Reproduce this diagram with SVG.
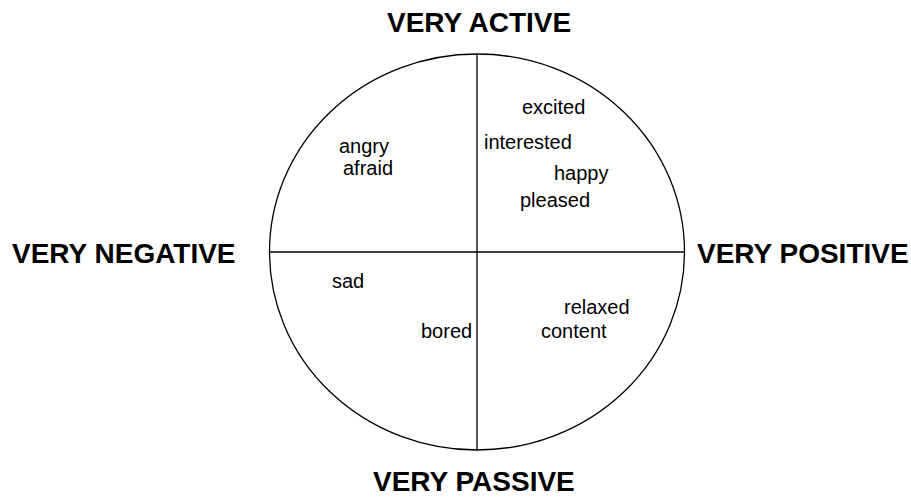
<svg xmlns="http://www.w3.org/2000/svg" width="911" height="498" viewBox="0 0 911 498">
<style>
.axis{font-family:"Liberation Sans",Arial,sans-serif;font-size:28px;font-weight:bold;fill:#000}
.lbl{font-family:"Liberation Sans",Arial,sans-serif;font-size:20px;fill:#000}
.ln{stroke:#000;stroke-width:1.3;fill:none}
</style>
<rect width="911" height="498" fill="#fff"/>
<g id="circle"><ellipse class="ln" cx="477" cy="252" rx="207.5" ry="198"/></g>
<g id="connectors">
<line class="ln" x1="477" y1="54" x2="477" y2="450"/>
<line class="ln" x1="269.5" y1="252" x2="684.5" y2="252"/>
</g>
<g id="axis-labels">
<text id="very-active" class="axis" x="387" y="32">VERY ACTIVE</text>
<text id="very-passive" class="axis" x="373" y="491">VERY PASSIVE</text>
<text id="very-negative" class="axis" x="12" y="263">VERY NEGATIVE</text>
<text id="very-positive" class="axis" x="697" y="263">VERY POSITIVE</text>
</g>
<g id="emotions">
<text class="lbl" x="522" y="114">excited</text>
<text class="lbl" x="484" y="149">interested</text>
<text class="lbl" x="554" y="180">happy</text>
<text class="lbl" x="520" y="207">pleased</text>
<text class="lbl" x="339" y="153">angry</text>
<text class="lbl" x="343" y="174.5">afraid</text>
<text class="lbl" x="332" y="288">sad</text>
<text class="lbl" x="421" y="338">bored</text>
<text class="lbl" x="564" y="314">relaxed</text>
<text class="lbl" x="541" y="338">content</text>
</g>
</svg>
